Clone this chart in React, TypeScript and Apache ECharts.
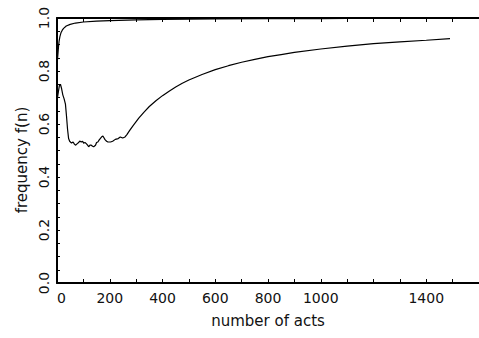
import React, { useEffect, useRef } from "react";
import * as echarts from "echarts";

// number of acts n and frequency f(n) for the upper curve
const upperN = [1, 2, 4, 6, 8, 11, 15, 20, 25, 35, 50, 70, 100, 150, 200, 300, 400, 600, 800, 1000, 1200, 1500];
const upperF = [0.83, 0.845, 0.87, 0.895, 0.913, 0.93, 0.944, 0.954, 0.961, 0.97, 0.976, 0.981, 0.985, 0.988, 0.99, 0.993, 0.995, 0.997, 0.998, 0.998, 0.999, 0.999];

// lower curve
const lowerN = [2, 5, 9, 13, 17, 22, 27, 32, 36, 40, 44, 48, 55, 61, 66, 70, 77, 82, 86, 92, 97, 101, 106, 111, 116, 120, 125, 130, 135, 139, 146, 150, 155, 160, 164, 170, 174, 178, 182, 188, 193, 203, 211, 221, 232, 240, 249, 258, 265, 275, 290, 310, 330, 350, 375, 400, 425, 450, 475, 500, 550, 600, 650, 700, 750, 800, 850, 900, 1000, 1100, 1200, 1300, 1400, 1490];
const lowerF = [0.70, 0.72, 0.745, 0.75, 0.735, 0.71, 0.695, 0.675, 0.63, 0.58, 0.545, 0.535, 0.528, 0.532, 0.524, 0.52, 0.526, 0.53, 0.536, 0.532, 0.535, 0.528, 0.53, 0.526, 0.52, 0.514, 0.52, 0.52, 0.516, 0.514, 0.52, 0.53, 0.532, 0.54, 0.545, 0.552, 0.555, 0.548, 0.541, 0.535, 0.532, 0.532, 0.535, 0.542, 0.545, 0.551, 0.547, 0.551, 0.56, 0.575, 0.596, 0.622, 0.645, 0.666, 0.688, 0.707, 0.724, 0.74, 0.754, 0.766, 0.787, 0.805, 0.82, 0.833, 0.844, 0.854, 0.862, 0.87, 0.883, 0.894, 0.903, 0.91, 0.916, 0.922];

const xLabels = [0, 200, 400, 600, 800, 1000, 1400];
const yLabels = [0, 0.2, 0.4, 0.6, 0.8, 1.0];

const FONT = "DejaVu Sans";
const INK = "#111";

export default function App() {
  const ref = useRef<HTMLDivElement>(null);
  useEffect(() => {
    if (!ref.current) return;
    const chart = echarts.init(ref.current, undefined, { renderer: "svg" });
    const axisLine = { show: true, lineStyle: { color: "#000", width: 2 } };
    const tick = { show: true, inside: true, length: 4, lineStyle: { color: "#000", width: 1 } };
    const xFormatter = (v: number) => (xLabels.some((l) => Math.abs(l - v) < 1e-6) ? String(v) : "");
    const yFormatter = (v: number) => (yLabels.some((l) => Math.abs(l - v) < 1e-6) ? v.toFixed(1) : "");
    chart.setOption({
      animation: false,
      backgroundColor: "#fff",
      grid: { left: 57, top: 18, right: -5, bottom: 55, containLabel: false },
      xAxis: [
        {
          type: "value",
          min: 0,
          max: 1600,
          interval: 100,
          position: "bottom",
          name: "number of acts",
          nameLocation: "middle",
          nameGap: 30,
          nameTextStyle: { fontFamily: FONT, fontSize: 15, color: INK },
          axisLine,
          axisTick: tick,
          splitLine: { show: false },
          axisLabel: { formatter: xFormatter, fontFamily: FONT, fontSize: 14, color: INK, margin: 8, showMinLabel: true, showMaxLabel: false, alignMinLabel: "left" },
        },
        {
          type: "value",
          min: 0,
          max: 1600,
          interval: 100,
          position: "top",
          axisLine,
          axisTick: tick,
          splitLine: { show: false },
          axisLabel: { show: false },
        },
      ],
      yAxis: {
        type: "value",
        min: 0,
        max: 1,
        interval: 0.05,
        axisLine,
        axisTick: { ...tick, length: 3 },
        splitLine: { show: false },
        axisLabel: { formatter: yFormatter, rotate: 90, fontFamily: FONT, fontSize: 14, color: INK, margin: 6 },
      },
      graphic: [
        {
          type: "text",
          x: 22,
          y: 160,
          rotation: Math.PI / 2,
          style: { text: "frequency f(n)", fontFamily: FONT, fontSize: 15, fill: INK, align: "center", verticalAlign: "middle" },
        },
      ],
      series: [
        {
          type: "line",
          data: upperN.map((n, i) => [n, upperF[i]]),
          showSymbol: false,
          lineStyle: { color: "#000", width: 1.2 },
          clip: true,
        },
        {
          type: "line",
          data: lowerN.map((n, i) => [n, lowerF[i]]),
          showSymbol: false,
          lineStyle: { color: "#000", width: 1.2 },
          clip: true,
        },
      ],
    });
    return () => chart.dispose();
  }, []);
  return <div ref={ref} style={{ position: "fixed", left: 0, top: 0, width: 479, height: 338 }} />;
}
